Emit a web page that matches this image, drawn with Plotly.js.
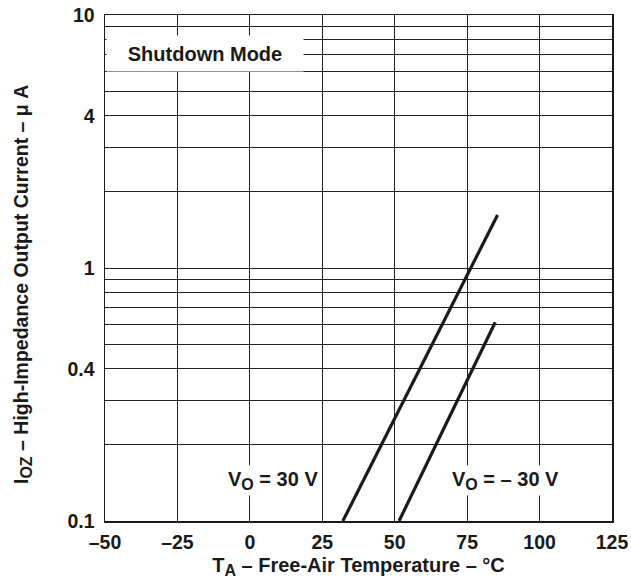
<!DOCTYPE html>
<html>
<head>
<meta charset="utf-8">
<script src="https://cdn.plot.ly/plotly-3.0.1.min.js"></script>
<style>html,body{margin:0;padding:0;background:#fff;}#chart{width:631px;height:582px;}</style>
</head>
<body>
<div id="chart"></div>
<script>
// Data
const tempVo30 = [32.1, 85.5];
const currentVo30 = [0.1, 1.62];
const tempVoNeg30 = [51.5, 84.7];
const currentVoNeg30 = [0.1, 0.61];

const xTickVals = [-50, -25, 0, 25, 50, 75, 100, 125];
const xTickText = ['–50', '–25', '0', '25', '50', '75', '100', '125'];
const yTickVals = [0.1,0.2,0.3,0.4,0.5,0.6,0.7,0.8,0.9,1,2,3,4,5,6,7,8,9,10];
const yTickText = ['0.1','','','0.4','','','','','','1','','','4','','','','','','10'];

const FONT = 'Liberation Sans, Arial, Helvetica, sans-serif';
const INK = '#1a1a1a';
const FS = 19.5;
const SUB = '<span style="font-size:16px">';

const lineStyle = {color: INK, width: 3.2};
const data = [
  {x: tempVo30, y: currentVo30, mode: 'lines', line: lineStyle, name: 'VO = 30 V', showlegend: false, hoverinfo: 'skip'},
  {x: tempVoNeg30, y: currentVoNeg30, mode: 'lines', line: lineStyle, name: 'VO = –30 V', showlegend: false, hoverinfo: 'skip'}
];

const f = (s) => ({family: FONT, size: s || FS, color: INK, weight: 'bold'});

const layout = {
  width: 631, height: 582,
  margin: {l: 105, r: 19, t: 15, b: 61},
  paper_bgcolor: '#fff', plot_bgcolor: '#fff',
  showlegend: false,
  font: f(),
  xaxis: {
    range: [-50, 125],
    tickvals: xTickVals, ticktext: xTickText,
    showgrid: true, gridcolor: '#222', gridwidth: 1,
    zeroline: false,
    showline: true, linecolor: INK, linewidth: 1.5, mirror: true,
    ticks: '', ticklabelstandoff: 3,
    tickfont: f(),
    title: {text: 'T<sub>' + SUB + 'A</span></sub> – Free-Air Temperature – °C', standoff: 6, font: f(20)}
  },
  yaxis: {
    type: 'log', range: [-1, 1],
    tickvals: yTickVals, ticktext: yTickText,
    showgrid: true, gridcolor: '#222', gridwidth: 1,
    zeroline: false,
    showline: true, linecolor: INK, linewidth: 1.5, mirror: true,
    ticks: '', ticklabelstandoff: 5,
    tickfont: f()
  },
  annotations: [
    {x: (22 - 105) / 507, y: 1 - (285 - 15) / 506, xref: 'paper', yref: 'paper', xanchor: 'center', yanchor: 'middle',
     textangle: -90, showarrow: false,
     text: 'I<sub>' + SUB + 'OZ</span></sub> – High-Impedance Output Current – μ A', font: f()},
    {x: -15.5, y: Math.log10(7.07), xref: 'x', yref: 'y', text: 'Shutdown Mode', showarrow: false,
     bgcolor: '#fff', width: 194, height: 33, font: f(20)},
    {x: 7.9, y: Math.log10(0.145), xref: 'x', yref: 'y', text: 'V<sub>' + SUB + 'O</span></sub> = 30 V', showarrow: false,
     bgcolor: '#fff', borderpad: 2, font: f(20)},
    {x: 88.2, y: Math.log10(0.145), xref: 'x', yref: 'y', text: 'V<sub>' + SUB + 'O</span></sub> = – 30 V', showarrow: false,
     bgcolor: '#fff', borderpad: 2, font: f(20)}
  ]
};

Plotly.newPlot('chart', data, layout, {staticPlot: true, displayModeBar: false});
</script>
</body>
</html>
